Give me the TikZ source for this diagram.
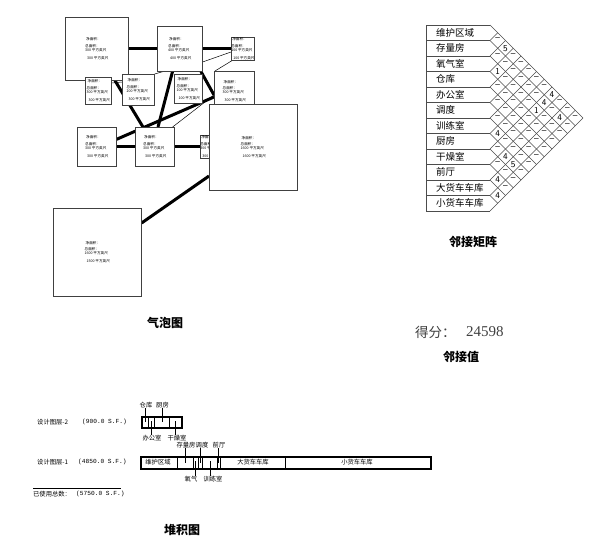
\documentclass[tikz,border=0pt]{standalone}
\usepackage{fontspec}
\setmainfont{Liberation Serif}
\newfontfamily\cjk{Noto Sans CJK SC}
\newfontfamily\mono{Liberation Mono}
\usetikzlibrary{calc}
\pgfdeclarelayer{bg}
\pgfsetlayers{bg,main}
\newcommand\bubtext[2]{\hspace{1pt}净面积：\\[2.5pt]总面积：\\#1 平方英尺\\[4pt]\hspace{2pt}#2 平方英尺}
\tikzset{
  bub/.style={draw=black!75, line width=0.6pt, fill=white, inner sep=0pt, anchor=north west, align=left,
    font=\cjk\fontsize{3.6}{4}\selectfont},
  thickln/.style={line width=3pt},
  thinln/.style={line width=0.5pt},
  grid/.style={draw=black!70, line width=0.6pt},
  rowlbl/.style={anchor=west, inner sep=0pt, font=\cjk\fontsize{9.5}{10}\selectfont},
  cell/.style={inner sep=0pt, font=\sffamily\fontsize{9}{9}\selectfont},
  slbl/.style={inner sep=0pt, font=\cjk\fontsize{6.3}{7}\selectfont},
  mlbl/.style={inner sep=0pt, anchor=west, font=\mono\fontsize{6.2}{7}\selectfont},
  title/.style={inner sep=0pt, font=\cjk\bfseries\fontsize{12}{13}\selectfont},
  div/.style={draw=black, line width=0.5pt},
}
\begin{document}
\begin{tikzpicture}[x=1pt,y=-1pt]
\useasboundingbox (0,0) rectangle (608,544);
\begin{pgfonlayer}{bg}
\fill[white] (0,0) rectangle (608,544);
\end{pgfonlayer}

% ---------- bubble diagram ----------
\node[bub, minimum width=63pt, minimum height=63pt] (A) at (65,17) {\bubtext{300}{300}};
\node[bub, minimum width=45pt, minimum height=45pt] (B) at (157,26) {\bubtext{400}{400}};
\node[bub, minimum width=23pt, minimum height=23pt] (C) at (231,37) {\bubtext{100}{100}};
\node[bub, minimum width=40pt, minimum height=40pt] (D) at (214,71) {\bubtext{300}{300}};
\node[bub, minimum width=28pt, minimum height=29pt] (E) at (174,74) {\bubtext{100}{100}};
\node[bub, minimum width=32pt, minimum height=31pt] (E1) at (122,74) {\bubtext{200}{300}};
\node[bub, minimum width=26pt, minimum height=27pt] (F) at (85,77) {\bubtext{300}{300}};
\node[bub, minimum width=39pt, minimum height=39pt] (G) at (77,127) {\bubtext{300}{300}};
\node[bub, minimum width=39pt, minimum height=39pt] (H) at (135,127) {\bubtext{300}{300}};
\node[bub, minimum width=23pt, minimum height=23pt] (J) at (200,135) {\bubtext{300}{300}};
\node[bub, minimum width=88pt, minimum height=86pt] (I) at (209,104) {\bubtext{1600}{1600}};
\node[bub, minimum width=88pt, minimum height=88pt] (K) at (53,208) {\bubtext{1600}{1500}};

\begin{pgfonlayer}{bg}
\draw[thickln] (A.east) -- (B.west);
\draw[thickln] (B.east) -- (C.west);
\draw[thinln] ($(B.north east)+(0,36)$) -- ($(C.north west)+(0,15)$);
\draw[thinln] ($(C.south west)+(1,0)$) -- ($(D.north west)+(1,0)$);
\draw[thickln] ($(B.south west)+(44,0)$) -- ($(D.north west)+(0,24)$);
\draw[thickln] ($(B.south west)+(15.5,0)$) -- ($(H.north west)+(23,0)$);
\draw[thickln] ($(A.south west)+(50,0)$) -- ($(H.north west)+(8,0)$);
\draw[thickln] ($(G.north east)+(0,12.3)$) -- ($(D.north west)+(0,26)$);
\draw[thinln] ($(D.north west)+(0,24)$) -- ($(H.north east)+(-2,0)$);
\draw[thinln] ($(F.north east)+(0,6)$) -- ($(E1.north west)+(0,8)$);
\draw[thinln] ($(E1.north east)+(0,0)$) -- ($(B.south west)+(6,0)$);
\draw[thickln] (G.east) -- (H.west);
\draw[thickln] (H.east) -- (J.west);
\draw[thickln] ($(K.north east)+(0,15)$) -- ($(I.north west)+(0,72)$);
\end{pgfonlayer}

\node[title] (t1) at (165,323) {气泡图};

% ---------- adjacency matrix ----------
\def\T{25}\def\h{15.5}
\draw[grid] (426,\T) -- (426,{\T+12*\h});
\foreach \k in {0,...,12}{
  \draw[grid] (426,{\T+\k*\h}) -- (490,{\T+\k*\h});
  \draw[grid] (490,{\T+\k*\h}) -- ++({(12-\k)*\h/2},{(12-\k)*\h/2});
  \draw[grid] (490,{\T+\k*\h}) -- ++({\k*\h/2},{-\k*\h/2});
}
\foreach \t [count=\k] in {维护区域,存量房,氧气室,仓库,办公室,调度,训练室,厨房,干燥室,前厅,大货车车库,小货车车库}{
  \node[rowlbl] (r\k) at (436,{\T+(\k-0.5)*\h}) {\t};
}
\expandafter\def\csname v1-3\endcsname{5}
\expandafter\def\csname v3-4\endcsname{1}
\expandafter\def\csname v1-9\endcsname{4}
\expandafter\def\csname v2-9\endcsname{4}
\expandafter\def\csname v3-9\endcsname{1}
\expandafter\def\csname v2-11\endcsname{4}
\expandafter\def\csname v7-8\endcsname{4}
\expandafter\def\csname v8-10\endcsname{4}
\expandafter\def\csname v8-11\endcsname{5}
\expandafter\def\csname v10-11\endcsname{4}
\expandafter\def\csname v11-12\endcsname{4}
\foreach \i in {1,...,11}{
  \pgfmathtruncatemacro\jstart{\i+1}
  \foreach \j in {\jstart,...,12}{
    \ifcsname v\i-\j\endcsname
      \node[cell] at ({490+(\j-\i)*\h/2},{\T+(\i+\j-1)*\h/2}) {\csname v\i-\j\endcsname};
    \else
      \node[cell] at ({490+(\j-\i)*\h/2},{\T+(\i+\j-1)*\h/2-1}) {–};
    \fi
  }
}
\node[title] (t2) at (473,242) {邻接矩阵};

% ---------- score ----------
\node[anchor=west, inner sep=0pt, text=black!75, font=\cjk\fontsize{13.5}{15}\selectfont] (score) at (415,332) {得分：};
\node[anchor=west, inner sep=0pt, text=black!75, font=\rmfamily\fontsize{15}{16}\selectfont] (scorev) at (466,332) {24598};
\node[title] (t3) at (461,357) {邻接值};

% ---------- stacking diagram ----------
\node[slbl, anchor=west] (l2) at (37,422) {设计图层-2};
\node[mlbl] (l2a) at (82,422) {(900.0 S.F.)};
\node[slbl, anchor=west] (l1) at (37,462) {设计图层-1};
\node[mlbl] (l1a) at (78,462) {(4850.0 S.F.)};
\node[slbl, anchor=west] (tot) at (33,494) {已使用总数：};
\node[mlbl] (tota) at (76,494) {(5750.0 S.F.)};
\coordinate (tl0) at (33,488);
\coordinate (tl1) at (121,488);
\draw[div] (tl0) -- (tl1);

% layer 2 bar
\node[draw=black, line width=2pt, anchor=north west, minimum width=40pt, minimum height=11pt, inner sep=0pt] (bar2) at (141,416) {};
\foreach \x in {148,154,169}{ \draw[div] (\x,416) -- (\x,427); }
\node[slbl] (s1) at (146,405) {仓库};
\node[slbl] (s2) at (162.5,405) {厨房};
\node[slbl] (s3) at (152,438) {办公室};
\node[slbl] (s4) at (177,438) {干燥室};
\draw[div] (s1.south -| 145,0) -- (145,422);
\draw[div] (s2.south -| 162,0) -- (162,422);
\draw[div] (151,421) -- (s3.north -| 151,0);
\draw[div] (175,421) -- (s4.north -| 175,0);

% layer 1 bar
\node[draw=black, line width=2pt, anchor=north west, minimum width=290pt, minimum height=12pt, inner sep=0pt] (bar1) at (140,456) {};
\foreach \x in {177,193,198,202,217,220,285}{ \draw[div] (\x,456) -- (\x,468); }
\node[slbl] (b1) at (158,462) {维护区域};
\node[slbl] (b2) at (253,462) {大货车车库};
\node[slbl] (b3) at (357,462) {小货车车库};
\node[slbl] (u1) at (186,445) {存量房};
\node[slbl] (u2) at (202,445) {调度};
\node[slbl] (u3) at (219,445) {前厅};
\node[slbl] (d1) at (191,479) {氧气};
\node[slbl] (d2) at (213,479) {训练室};
\draw[div] (u1.south -| 185,0) -- (185,463);
\draw[div] (u2.south -| 200,0) -- (200,463);
\draw[div] (u3.south -| 218.5,0) -- (218.5,463);
\draw[div] (195.5,461) -- (d1.north -| 195.5,0);
\draw[div] (210,461) -- (d2.north -| 210,0);

\node[title] (t4) at (182,530) {堆积图};
\end{tikzpicture}
\end{document}
